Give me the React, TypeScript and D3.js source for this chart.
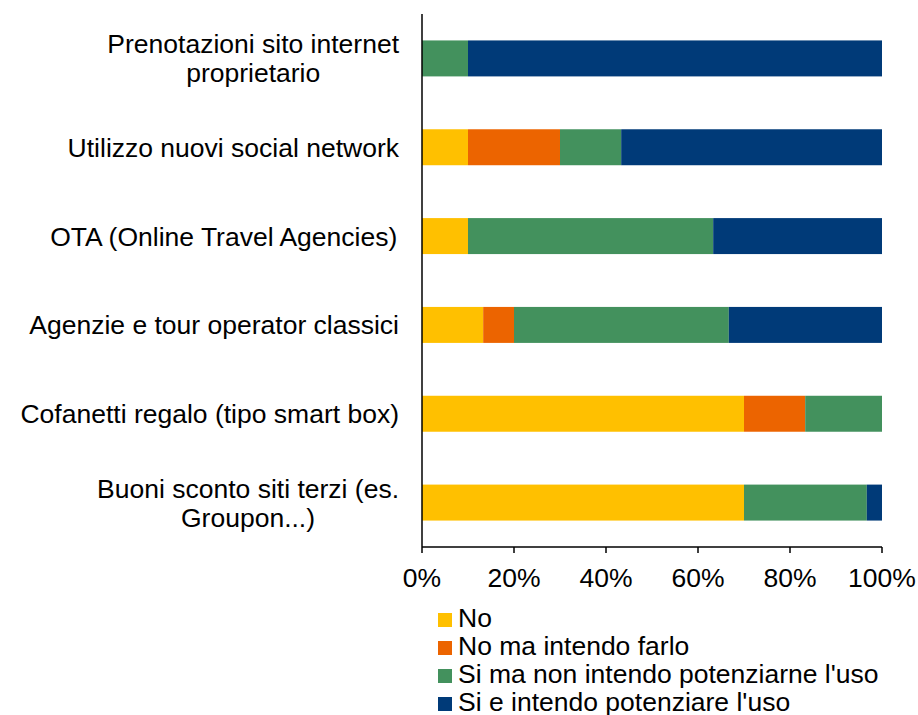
import React from "react";
import * as d3 from "d3";

const categories: string[][] = [
  ["Prenotazioni sito internet", "proprietario"],
  ["Utilizzo nuovi social network"],
  ["OTA (Online Travel Agencies)"],
  ["Agenzie e tour operator classici"],
  ["Cofanetti regalo (tipo smart box)"],
  ["Buoni sconto siti terzi (es.", "Groupon...)"],
];
const seriesNames = [
  "No",
  "No ma intendo farlo",
  "Si ma non intendo potenziarne l'uso",
  "Si e intendo potenziare l'uso",
];
const seriesColors = ["#FFC000", "#EC6400", "#43915D", "#003A78"];
const noValues = [0, 10, 10, 13.3, 70, 70];
const noMaValues = [0, 20, 0, 6.7, 13.3, 0];
const siMaValues = [10, 13.3, 53.3, 46.7, 16.7, 26.7];
const siEValues = [90, 56.7, 36.7, 33.3, 0, 3.3];
const tickValues = [0, 20, 40, 60, 80, 100];

const FONT = "'Liberation Sans', Arial, sans-serif";
const FS = 26.5;

function measure(t: string): number {
  if (typeof document === "undefined") return t.length * FS * 0.5;
  const c = document.createElement("canvas").getContext("2d");
  if (!c) return t.length * FS * 0.5;
  c.font = `${FS}px ${FONT}`;
  return c.measureText(t).width;
}

export default function App() {
  const W = 918, H = 715;
  const left = 422, right = 882, top = 14, bottom = 547;
  const labelRight = 399;
  const x = d3.scaleLinear().domain([0, 100]).range([left, right]);
  const y = d3
    .scaleBand<number>()
    .domain(categories.map((_, i) => i))
    .range([top, bottom])
    .paddingInner(0.595)
    .paddingOuter(0.2975);
  const series = [noValues, noMaValues, siMaValues, siEValues];
  const rows = categories.map((_, i) => {
    const o: any = { i };
    series.forEach((s, k) => (o["s" + k] = s[i]));
    return o;
  });
  const stack = d3.stack<any>().keys(series.map((_, k) => "s" + k));
  const stacked = stack(rows);

  return (
    <svg width={W} height={H} style={{ position: "absolute", left: 0, top: 0 }} fontFamily={FONT}>
      <rect width={W} height={H} fill="#fff" />
      {stacked.map((layer, k) =>
        layer.map((d, i) =>
          d[1] - d[0] > 0 ? (
            <rect
              key={k + "-" + i}
              x={x(d[0])}
              y={y(i)!}
              width={x(d[1]) - x(d[0])}
              height={y.bandwidth()}
              fill={seriesColors[k]}
            />
          ) : null
        )
      )}
      <line x1={left} x2={left} y1={top} y2={bottom} stroke="#000" strokeWidth={1.5} />
      <line x1={left} x2={right} y1={bottom} y2={bottom} stroke="#000" strokeWidth={1.5} />
      {tickValues.map((t) => (
        <g key={t}>
          <line x1={x(t)} x2={x(t)} y1={bottom} y2={bottom + 6} stroke="#000" strokeWidth={1.5} />
          <text x={x(t)} y={bottom + 40} textAnchor="middle" fontSize={FS} fill="#000">
            {t + "%"}
          </text>
        </g>
      ))}
      {categories.map((lines, i) => {
        const cy = y(i)! + y.bandwidth() / 2;
        const lh = 29;
        const y0 = cy - ((lines.length - 1) * lh) / 2 + 9.5;
        const maxW = Math.max(...lines.map(measure));
        const cx = labelRight - maxW / 2;
        return lines.map((ln, j) => (
          <text
            key={i + "-" + j}
            x={cx}
            y={y0 + j * lh}
            textAnchor="middle"
            fontSize={FS}
            fill="#000"
          >
            {ln}
          </text>
        ));
      })}
      {seriesNames.map((n, k) => (
        <g key={n}>
          <rect x={438} y={613 + k * 28} width={14} height={14} fill={seriesColors[k]} />
          <text x={458} y={627 + k * 28} fontSize={FS} fill="#000">
            {n}
          </text>
        </g>
      ))}
    </svg>
  );
}
